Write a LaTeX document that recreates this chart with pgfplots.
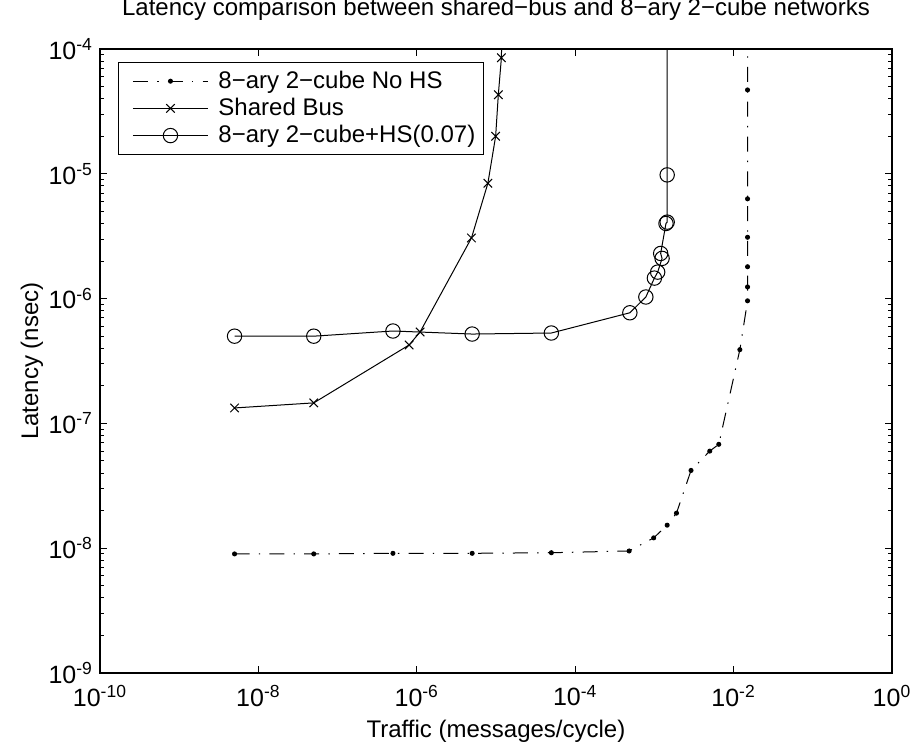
\documentclass[border=0pt]{standalone}
\usepackage{fontspec}
\setmainfont{Liberation Sans}
\usepackage{pgfplots}
\pgfplotsset{compat=1.18}
\begin{document}
\begin{tikzpicture}
\useasboundingbox (-50pt,-37pt) rectangle (407pt,336.5pt);
\begin{axis}[
  at={(0,0)}, anchor=south west,
  scale only axis, width=396pt, height=312pt,
  xmode=log, ymode=log,
  xmin=1e-10, xmax=1, ymin=1e-9, ymax=1e-4,
  axis line style={line width=0.6pt},
  xtick={1e-10,1e-8,1e-6,1e-4,1e-2,1},
  xticklabels={10\textsuperscript{-10},10\textsuperscript{-8},10\textsuperscript{-6},10\textsuperscript{-4},10\textsuperscript{-2},10\textsuperscript{0}},
  ytick={1e-9,1e-8,1e-7,1e-6,1e-5,1e-4},
  yticklabels={10\textsuperscript{-9},10\textsuperscript{-8},10\textsuperscript{-7},10\textsuperscript{-6},10\textsuperscript{-5},10\textsuperscript{-4}},
  minor ytick={2e-9,3e-9,4e-9,5e-9,6e-9,7e-9,8e-9,9e-9,
               2e-8,3e-8,4e-8,5e-8,6e-8,7e-8,8e-8,9e-8,
               2e-7,3e-7,4e-7,5e-7,6e-7,7e-7,8e-7,9e-7,
               2e-6,3e-6,4e-6,5e-6,6e-6,7e-6,8e-6,9e-6,
               2e-5,3e-5,4e-5,5e-5,6e-5,7e-5,8e-5,9e-5},
  xminorticks=false,
  tick align=inside,
  major tick length=3.5pt, minor tick length=2pt,
  every tick/.style={black, line width=0.5pt},
  tick label style={font=\fontsize{12.5}{14}\selectfont},
  xticklabel style={yshift=-2.5pt},
  title={Latency comparison between shared−bus and 8−ary 2−cube networks},
  title style={at={(0.5,1)}, anchor=base, yshift=10.5pt, font=\fontsize{12}{14}\selectfont},
  xlabel={Traffic (messages/cycle)},
  xlabel style={at={(0.5,0)}, anchor=base, yshift=-32pt, font=\fontsize{12}{14}\selectfont},
  ylabel={Latency (nsec)},
  ylabel style={at={(axis description cs:-0.078,0.5)}, anchor=base, rotate=0, font=\fontsize{12}{14}\selectfont},
  legend cell align=left,
  legend style={at={(0.0227,0.979)}, anchor=north west, draw=black, line width=0.5pt,
    font=\fontsize{12}{13}\selectfont, inner xsep=2pt, inner ysep=2.5pt,
    nodes={inner xsep=2pt, inner ysep=1.7pt}, row sep=0pt},
  legend image code/.code={\path (-5pt,0pt) (40.5pt,0pt);
    \draw[mark repeat=2,mark phase=2,#1] plot coordinates {(0pt,0pt) (18.75pt,0pt) (37.5pt,0pt)};},
]
% 8-ary 2-cube No HS
\addplot[black, line width=0.5pt, dash pattern=on 7.5pt off 4.6pt on 0.7pt off 4.6pt,
  mark=*, mark size=1pt, mark options={solid}] coordinates {
  (5e-9,9.0e-9) (5e-8,9.0e-9) (5e-7,9.1e-9) (5e-6,9.1e-9) (5e-5,9.2e-9)
  (4.8e-4,9.5e-9) (9.8e-4,1.21e-8) (1.45e-3,1.53e-8) (1.9e-3,1.91e-8)
  (2.9e-3,4.2e-8) (5e-3,6.0e-8) (6.5e-3,6.8e-8) (1.2e-2,3.9e-7)
  (1.5e-2,9.6e-7) (1.5e-2,1.24e-6) (1.5e-2,1.8e-6) (1.5e-2,3.1e-6)
  (1.5e-2,6.3e-6) (1.5e-2,4.7e-5) (1.5e-2,1e-3)
};
\addlegendentry{8−ary 2−cube No HS}
% Shared Bus
\addplot[black, line width=0.5pt, mark=x, mark size=3pt] coordinates {
  (5e-9,1.33e-7) (5e-8,1.46e-7) (8e-7,4.25e-7) (1.1e-6,5.4e-7)
  (4.9e-6,3.06e-6) (7.9e-6,8.4e-6) (9.9e-6,2.0e-5) (1.07e-5,4.3e-5)
  (1.17e-5,8.5e-5) (1.2e-5,2e-4)
};
\addlegendentry{Shared Bus}
% 8-ary 2-cube + HS(0.07)
\addplot[black, line width=0.5pt, mark=o, mark size=3.6pt] coordinates {
  (5e-9,5.0e-7) (5e-8,5.0e-7) (5e-7,5.5e-7) (5e-6,5.2e-7) (5e-5,5.3e-7)
  (4.9e-4,7.7e-7) (7.8e-4,1.03e-6) (1.0e-3,1.46e-6) (1.1e-3,1.63e-6)
  (1.25e-3,2.1e-6) (1.2e-3,2.3e-6) (1.4e-3,4.0e-6) (1.45e-3,4.1e-6)
  (1.45e-3,9.8e-6) (1.45e-3,1e-3)
};
\addlegendentry{8−ary 2−cube+HS(0.07)}
\end{axis}
\end{tikzpicture}
\end{document}
